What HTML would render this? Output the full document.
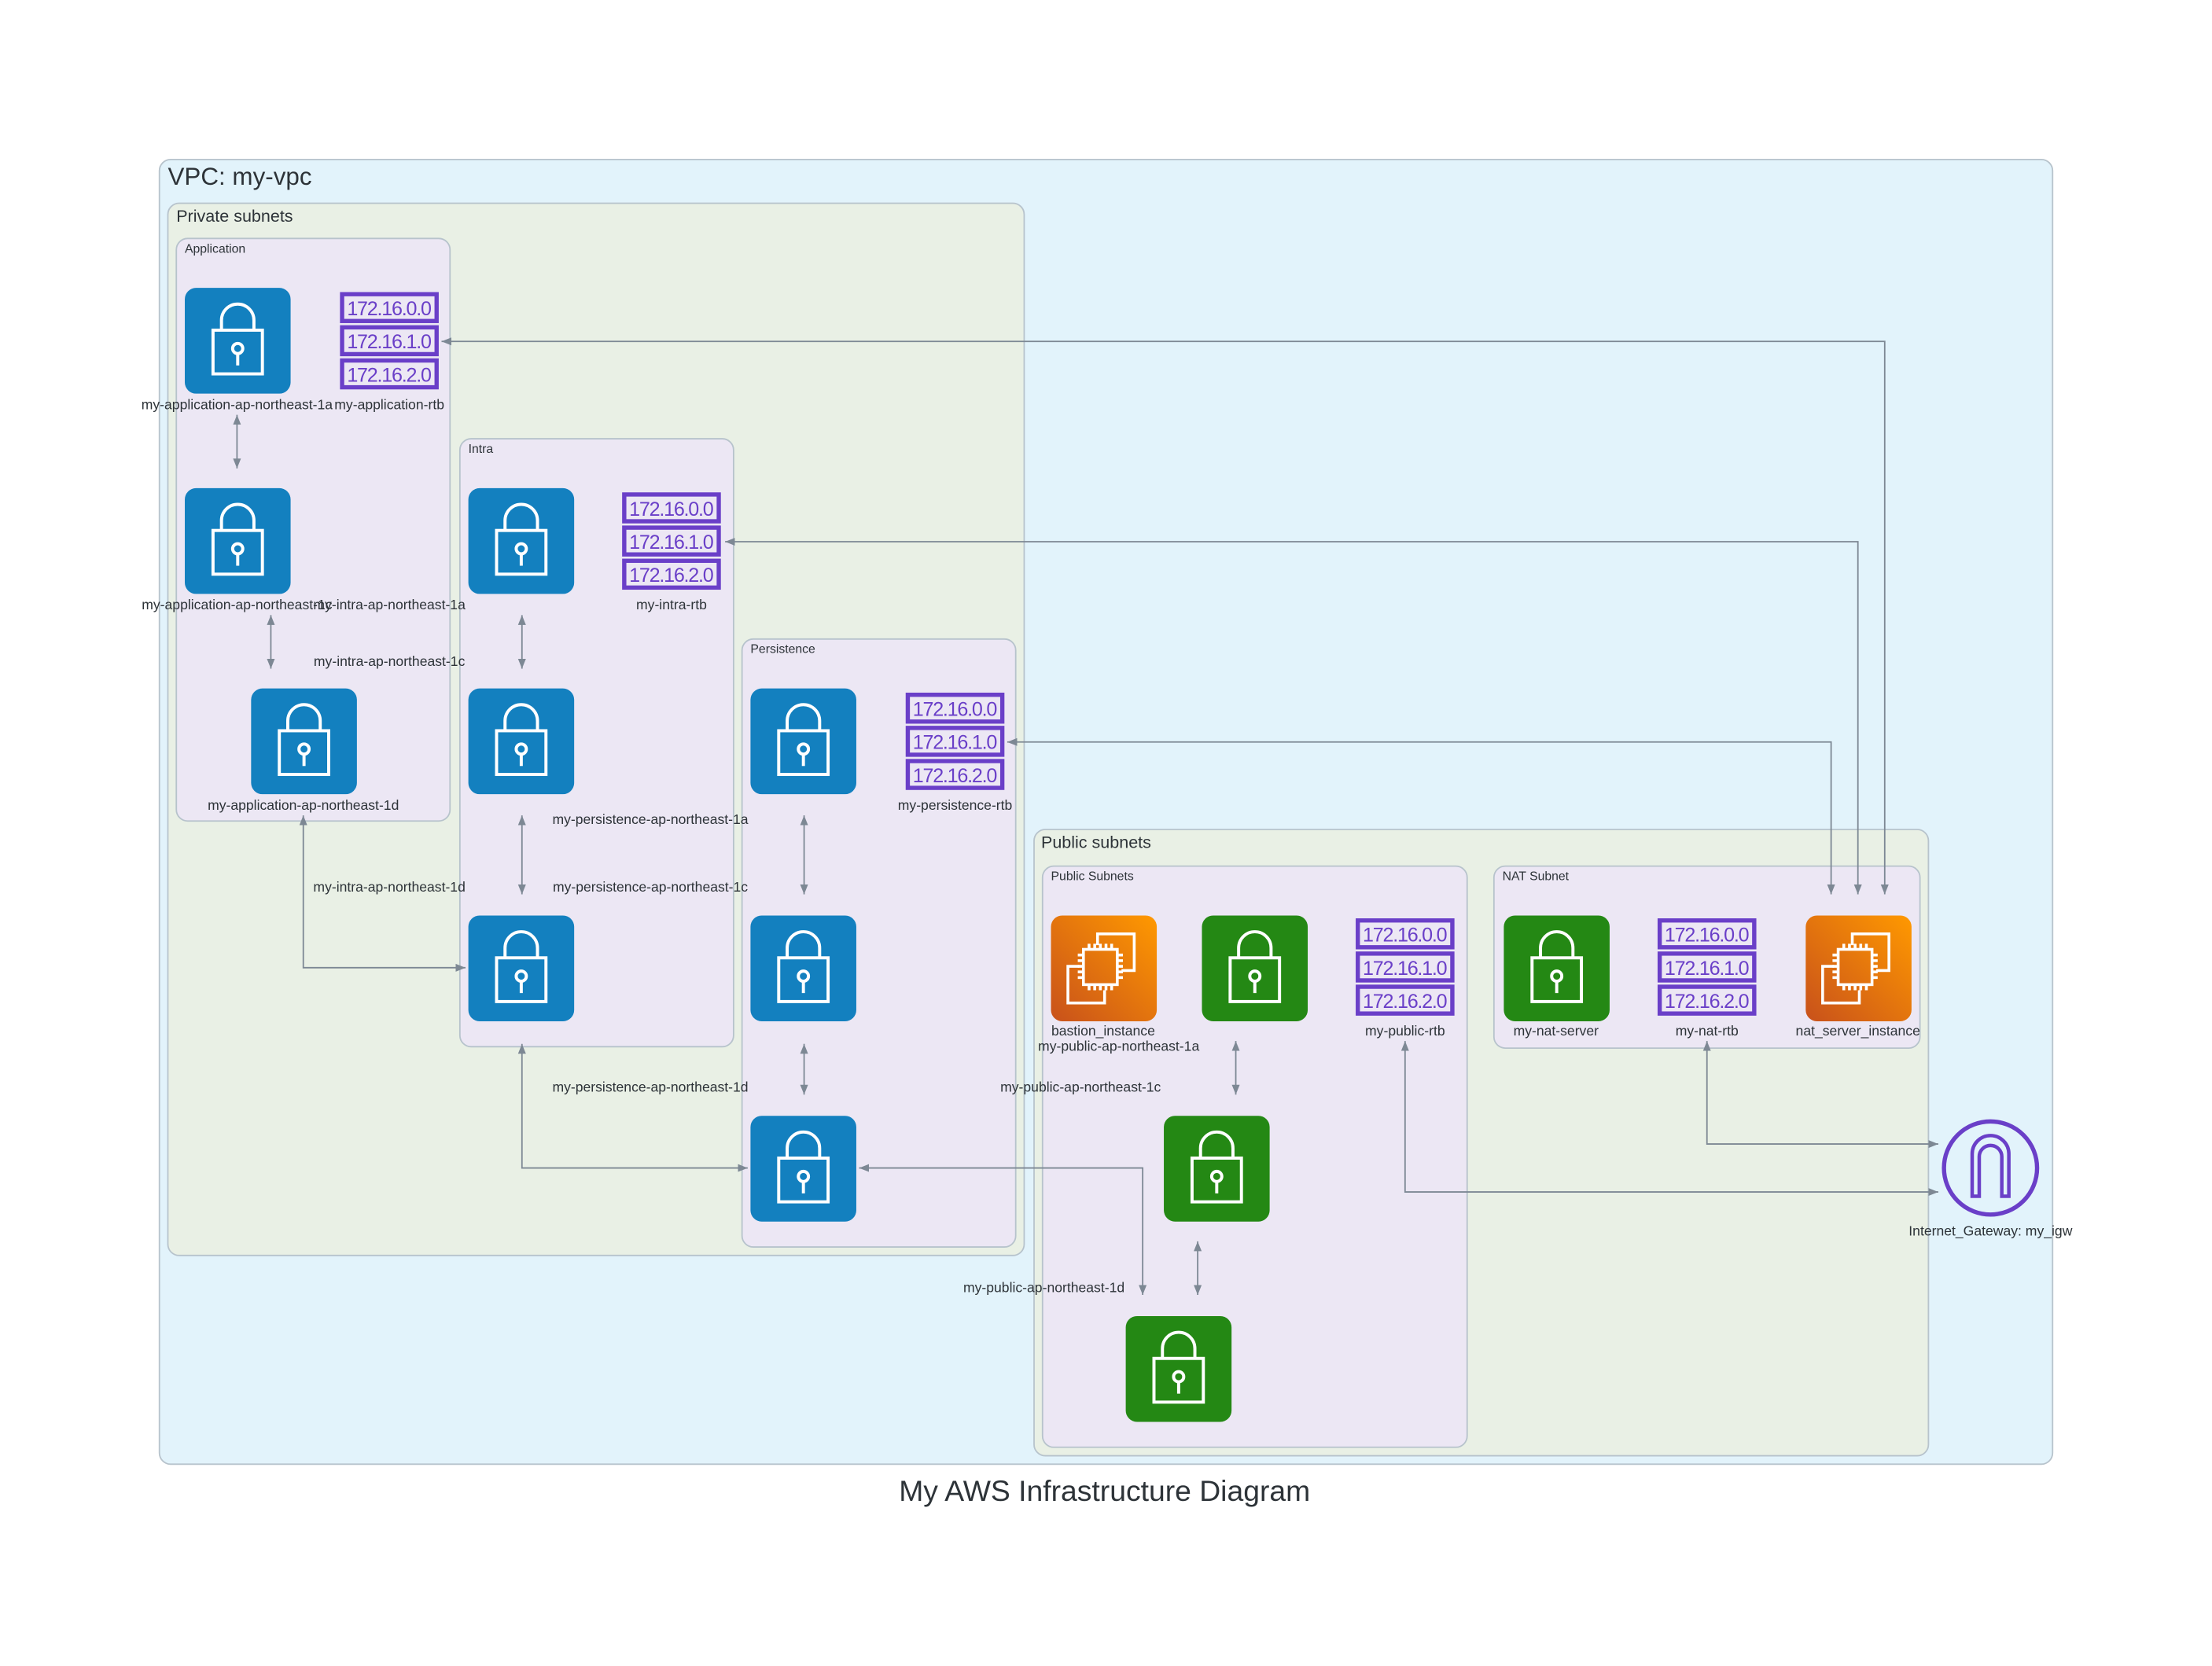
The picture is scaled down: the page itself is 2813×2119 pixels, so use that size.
<!DOCTYPE html>
<html><head><meta charset="utf-8"><style>
html,body{margin:0;padding:0;background:#fff}
svg{display:block}
text{font-family:"Liberation Sans",sans-serif;fill:#2d3338}
.l{font-size:9.8px;text-anchor:middle}
.ip{font-size:14px;fill:#6a3fc8;text-anchor:middle;font-family:"Liberation Sans",sans-serif}
.e{stroke:#7d8894;stroke-width:1;fill:none}
</style></head><body>
<svg width="2813" height="2119" viewBox="0 0 1568 1181" xmlns="http://www.w3.org/2000/svg">
<defs>
<marker id="a" viewBox="0 0 10 10" refX="10" refY="5" markerWidth="7" markerHeight="7" orient="auto-start-reverse"><path d="M0,1 L10,5 L0,9 z" fill="#7d8894"/></marker>
<g id="lockb"><rect width="75" height="75" rx="8" fill="#1380bf"/><g stroke="#fff" stroke-width="2.2" fill="none"><path d="M26,30 V23 A11.5,11.5 0 0 1 49,23 V30"/><rect x="20" y="30" width="35" height="31"/><circle cx="37.5" cy="43" r="3.6"/><path d="M37.5,46.6 V55"/></g></g>
<g id="lockg"><rect width="75" height="75" rx="8" fill="#248814"/><g stroke="#fff" stroke-width="2.2" fill="none"><path d="M26,30 V23 A11.5,11.5 0 0 1 49,23 V30"/><rect x="20" y="30" width="35" height="31"/><circle cx="37.5" cy="43" r="3.6"/><path d="M37.5,46.6 V55"/></g></g>
<linearGradient id="og" x1="0" y1="1" x2="1" y2="0"><stop offset="0" stop-color="#c8511b"/><stop offset="1" stop-color="#ff9900"/></linearGradient>
<g id="ec2"><rect width="75" height="75" rx="8" fill="url(#og)"/><g stroke="#fff" stroke-width="2" fill="none"><path d="M38,53 V62 H12 V36 H20"/><path d="M33,21 V13 H59 V39 H50"/><rect x="23" y="24" width="24" height="25"/><path d="M27,24v-4M31,24v-4M35,24v-4M39,24v-4M43,24v-4M27,49v4M31,49v4M35,49v4M39,49v4M43,49v4M23,28h-4M23,32h-4M23,36h-4M23,40h-4M23,44h-4M47,28h4M47,32h4M47,36h4M47,40h4M47,44h4"/></g></g>
<g id="rtb"><g fill="none" stroke="#6a3fc8" stroke-width="3"><rect x="1.5" y="1.5" width="67" height="19"/><rect x="1.5" y="25" width="67" height="19"/><rect x="1.5" y="48.5" width="67" height="19"/></g><text class="ip" x="35" y="16.5" textLength="60">172.16.0.0</text><text class="ip" x="35" y="40" textLength="60">172.16.1.0</text><text class="ip" x="35" y="63.5" textLength="60">172.16.2.0</text></g>
</defs>
<rect x="113" y="113" width="1342" height="925" rx="8" fill="#e2f3fb" stroke="#b7c3cc"/>
<text x="119" y="131" style="font-size:17.5px">VPC: my-vpc</text>
<rect x="119" y="144" width="607" height="746" rx="8" fill="#e9f0e5" stroke="#b7c3cc"/>
<text x="125" y="157" style="font-size:12px">Private subnets</text>
<rect x="125" y="169" width="194" height="413" rx="8" fill="#ece7f4" stroke="#b7c3cc"/>
<text x="131" y="179" style="font-size:8.8px">Application</text>
<rect x="326" y="311" width="194" height="431" rx="8" fill="#ece7f4" stroke="#b7c3cc"/>
<text x="332" y="321" style="font-size:8.8px">Intra</text>
<rect x="526" y="453" width="194" height="431" rx="8" fill="#ece7f4" stroke="#b7c3cc"/>
<text x="532" y="463" style="font-size:8.8px">Persistence</text>
<rect x="733" y="588" width="634" height="444" rx="8" fill="#e9f0e5" stroke="#b7c3cc"/>
<text x="738" y="601" style="font-size:12px">Public subnets</text>
<rect x="739" y="614" width="301" height="412" rx="8" fill="#ece7f4" stroke="#b7c3cc"/>
<text x="745" y="624" style="font-size:8.8px">Public Subnets</text>
<rect x="1059" y="614" width="302" height="129" rx="8" fill="#ece7f4" stroke="#b7c3cc"/>
<text x="1065" y="624" style="font-size:8.8px">NAT Subnet</text>
<g class="e">
<path d="M168,294 V332" marker-start="url(#a)" marker-end="url(#a)"/>
<path d="M192,436 V474" marker-start="url(#a)" marker-end="url(#a)"/>
<path d="M215,578 V686 H330" marker-start="url(#a)" marker-end="url(#a)"/>
<path d="M370,436 V474" marker-start="url(#a)" marker-end="url(#a)"/>
<path d="M370,578 V634" marker-start="url(#a)" marker-end="url(#a)"/>
<path d="M370,740 V828 H530" marker-start="url(#a)" marker-end="url(#a)"/>
<path d="M570,578 V634" marker-start="url(#a)" marker-end="url(#a)"/>
<path d="M570,740 V776" marker-start="url(#a)" marker-end="url(#a)"/>
<path d="M609,828 H810 V918" marker-start="url(#a)" marker-end="url(#a)"/>
<path d="M876,738 V776" marker-start="url(#a)" marker-end="url(#a)"/>
<path d="M849,880 V918" marker-start="url(#a)" marker-end="url(#a)"/>
<path d="M313,242 H1336 V634" marker-start="url(#a)" marker-end="url(#a)"/>
<path d="M514,384 H1317 V634" marker-start="url(#a)" marker-end="url(#a)"/>
<path d="M714,526 H1298 V634" marker-start="url(#a)" marker-end="url(#a)"/>
<path d="M996,738 V845 H1374" marker-start="url(#a)" marker-end="url(#a)"/>
<path d="M1210,738 V811 H1374" marker-start="url(#a)" marker-end="url(#a)"/>
</g>
<use href="#lockb" x="131" y="204"/><use href="#rtb" x="241" y="207"/>
<use href="#lockb" x="131" y="346"/><use href="#lockb" x="178" y="488"/>
<use href="#lockb" x="332" y="346"/><use href="#rtb" x="441" y="349"/>
<use href="#lockb" x="332" y="488"/><use href="#lockb" x="332" y="649"/>
<use href="#lockb" x="532" y="488"/><use href="#rtb" x="642" y="491"/>
<use href="#lockb" x="532" y="649"/><use href="#lockb" x="532" y="791"/>
<use href="#ec2" x="745" y="649"/><use href="#lockg" x="852" y="649"/><use href="#rtb" x="961" y="651"/>
<use href="#lockg" x="825" y="791"/><use href="#lockg" x="798" y="933"/>
<use href="#lockg" x="1066" y="649"/><use href="#rtb" x="1175" y="651"/><use href="#ec2" x="1280" y="649"/>
<circle cx="1411" cy="828" r="33" fill="none" stroke="#6a3fc8" stroke-width="3"/>
<path d="M1398,848 V818 A13,13 0 0 1 1424,818 V848 H1419 V820 A8,8 0 0 0 1403,820 V848 Z" fill="none" stroke="#6a3fc8" stroke-width="2.5"/>
<text class="l" x="168" y="290">my-application-ap-northeast-1a</text>
<text class="l" x="276" y="290">my-application-rtb</text>
<text class="l" x="168" y="432">my-application-ap-northeast-1c</text>
<text class="l" x="276" y="432">my-intra-ap-northeast-1a</text>
<text class="l" x="476" y="432">my-intra-rtb</text>
<text class="l" x="276" y="472">my-intra-ap-northeast-1c</text>
<text class="l" x="215" y="574">my-application-ap-northeast-1d</text>
<text class="l" x="677" y="574">my-persistence-rtb</text>
<text class="l" x="461" y="584">my-persistence-ap-northeast-1a</text>
<text class="l" x="276" y="632">my-intra-ap-northeast-1d</text>
<text class="l" x="461" y="632">my-persistence-ap-northeast-1c</text>
<text class="l" x="461" y="774">my-persistence-ap-northeast-1d</text>
<text class="l" x="782" y="734">bastion_instance</text>
<text class="l" x="793" y="745">my-public-ap-northeast-1a</text>
<text class="l" x="996" y="734">my-public-rtb</text>
<text class="l" x="1103" y="734">my-nat-server</text>
<text class="l" x="1210" y="734">my-nat-rtb</text>
<text class="l" x="1317" y="734">nat_server_instance</text>
<text class="l" x="766" y="774">my-public-ap-northeast-1c</text>
<text class="l" x="740" y="916">my-public-ap-northeast-1d</text>
<text class="l" x="1411" y="876">Internet_Gateway: my_igw</text>
<text x="783" y="1064" style="font-size:20.8px;text-anchor:middle">My AWS Infrastructure Diagram</text>
</svg>
</body></html>
